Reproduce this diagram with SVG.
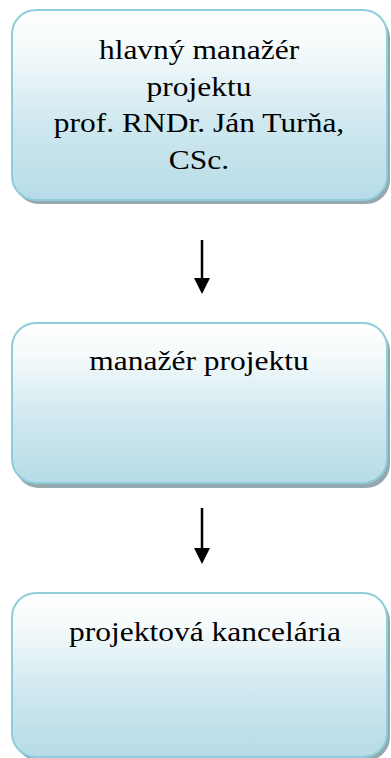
<svg xmlns="http://www.w3.org/2000/svg" width="391" height="758" viewBox="0 0 391 758">
<defs>
<linearGradient id="g" x1="0" y1="0" x2="0" y2="1">
<stop offset="0" stop-color="#ffffff"/>
<stop offset="0.2" stop-color="#f5fafb"/>
<stop offset="0.6" stop-color="#cfe8ef"/>
<stop offset="1" stop-color="#b6dce7"/>
</linearGradient>
<style>
.box{fill:url(#g);stroke:#8fcddb;stroke-width:2}
.sh{fill:#94a8ae}
.t{font-family:"Liberation Serif","Times New Roman",serif;font-size:28px;fill:#000;text-anchor:middle}
.c{stroke:#000;stroke-width:2.5;fill:none}
.hd{fill:#000}
</style>
</defs>
<rect width="391" height="758" fill="#fff"/>
<g id="node1">
<rect class="sh" x="15" y="14" width="375" height="190" rx="24"/>
<rect class="box" x="12" y="10" width="375" height="190" rx="24"/>
<text class="t" transform="translate(199,59) scale(1.125,1)">hlavný manažér</text>
<text class="t" transform="translate(199,95.5) scale(1.125,1)">projektu</text>
<text class="t" transform="translate(199,131.5) scale(1.125,1)">prof. RNDr. Ján Turňa,</text>
<text class="t" transform="translate(199,168.5) scale(1.125,1)">CSc.</text>
</g>
<g id="node2">
<rect class="sh" x="15" y="327" width="375" height="161" rx="24"/>
<rect class="box" x="12" y="323" width="375" height="160" rx="24"/>
<text class="t" transform="translate(199,370) scale(1.125,1)">manažér projektu</text>
</g>
<g id="node3">
<rect class="sh" x="15" y="597" width="375" height="164" rx="24"/>
<rect class="box" x="12" y="593" width="375" height="164" rx="24"/>
<text class="t" transform="translate(205,641) scale(1.125,1)">projektová kancelária</text>
</g>
<g id="connectors">
<line class="c" x1="202" y1="240" x2="202" y2="280"/>
<path class="hd" d="M194,278 L210,278 L202,294 Z"/>
<line class="c" x1="202" y1="508" x2="202" y2="550"/>
<path class="hd" d="M194,548 L210,548 L202,564 Z"/>
</g>
</svg>
